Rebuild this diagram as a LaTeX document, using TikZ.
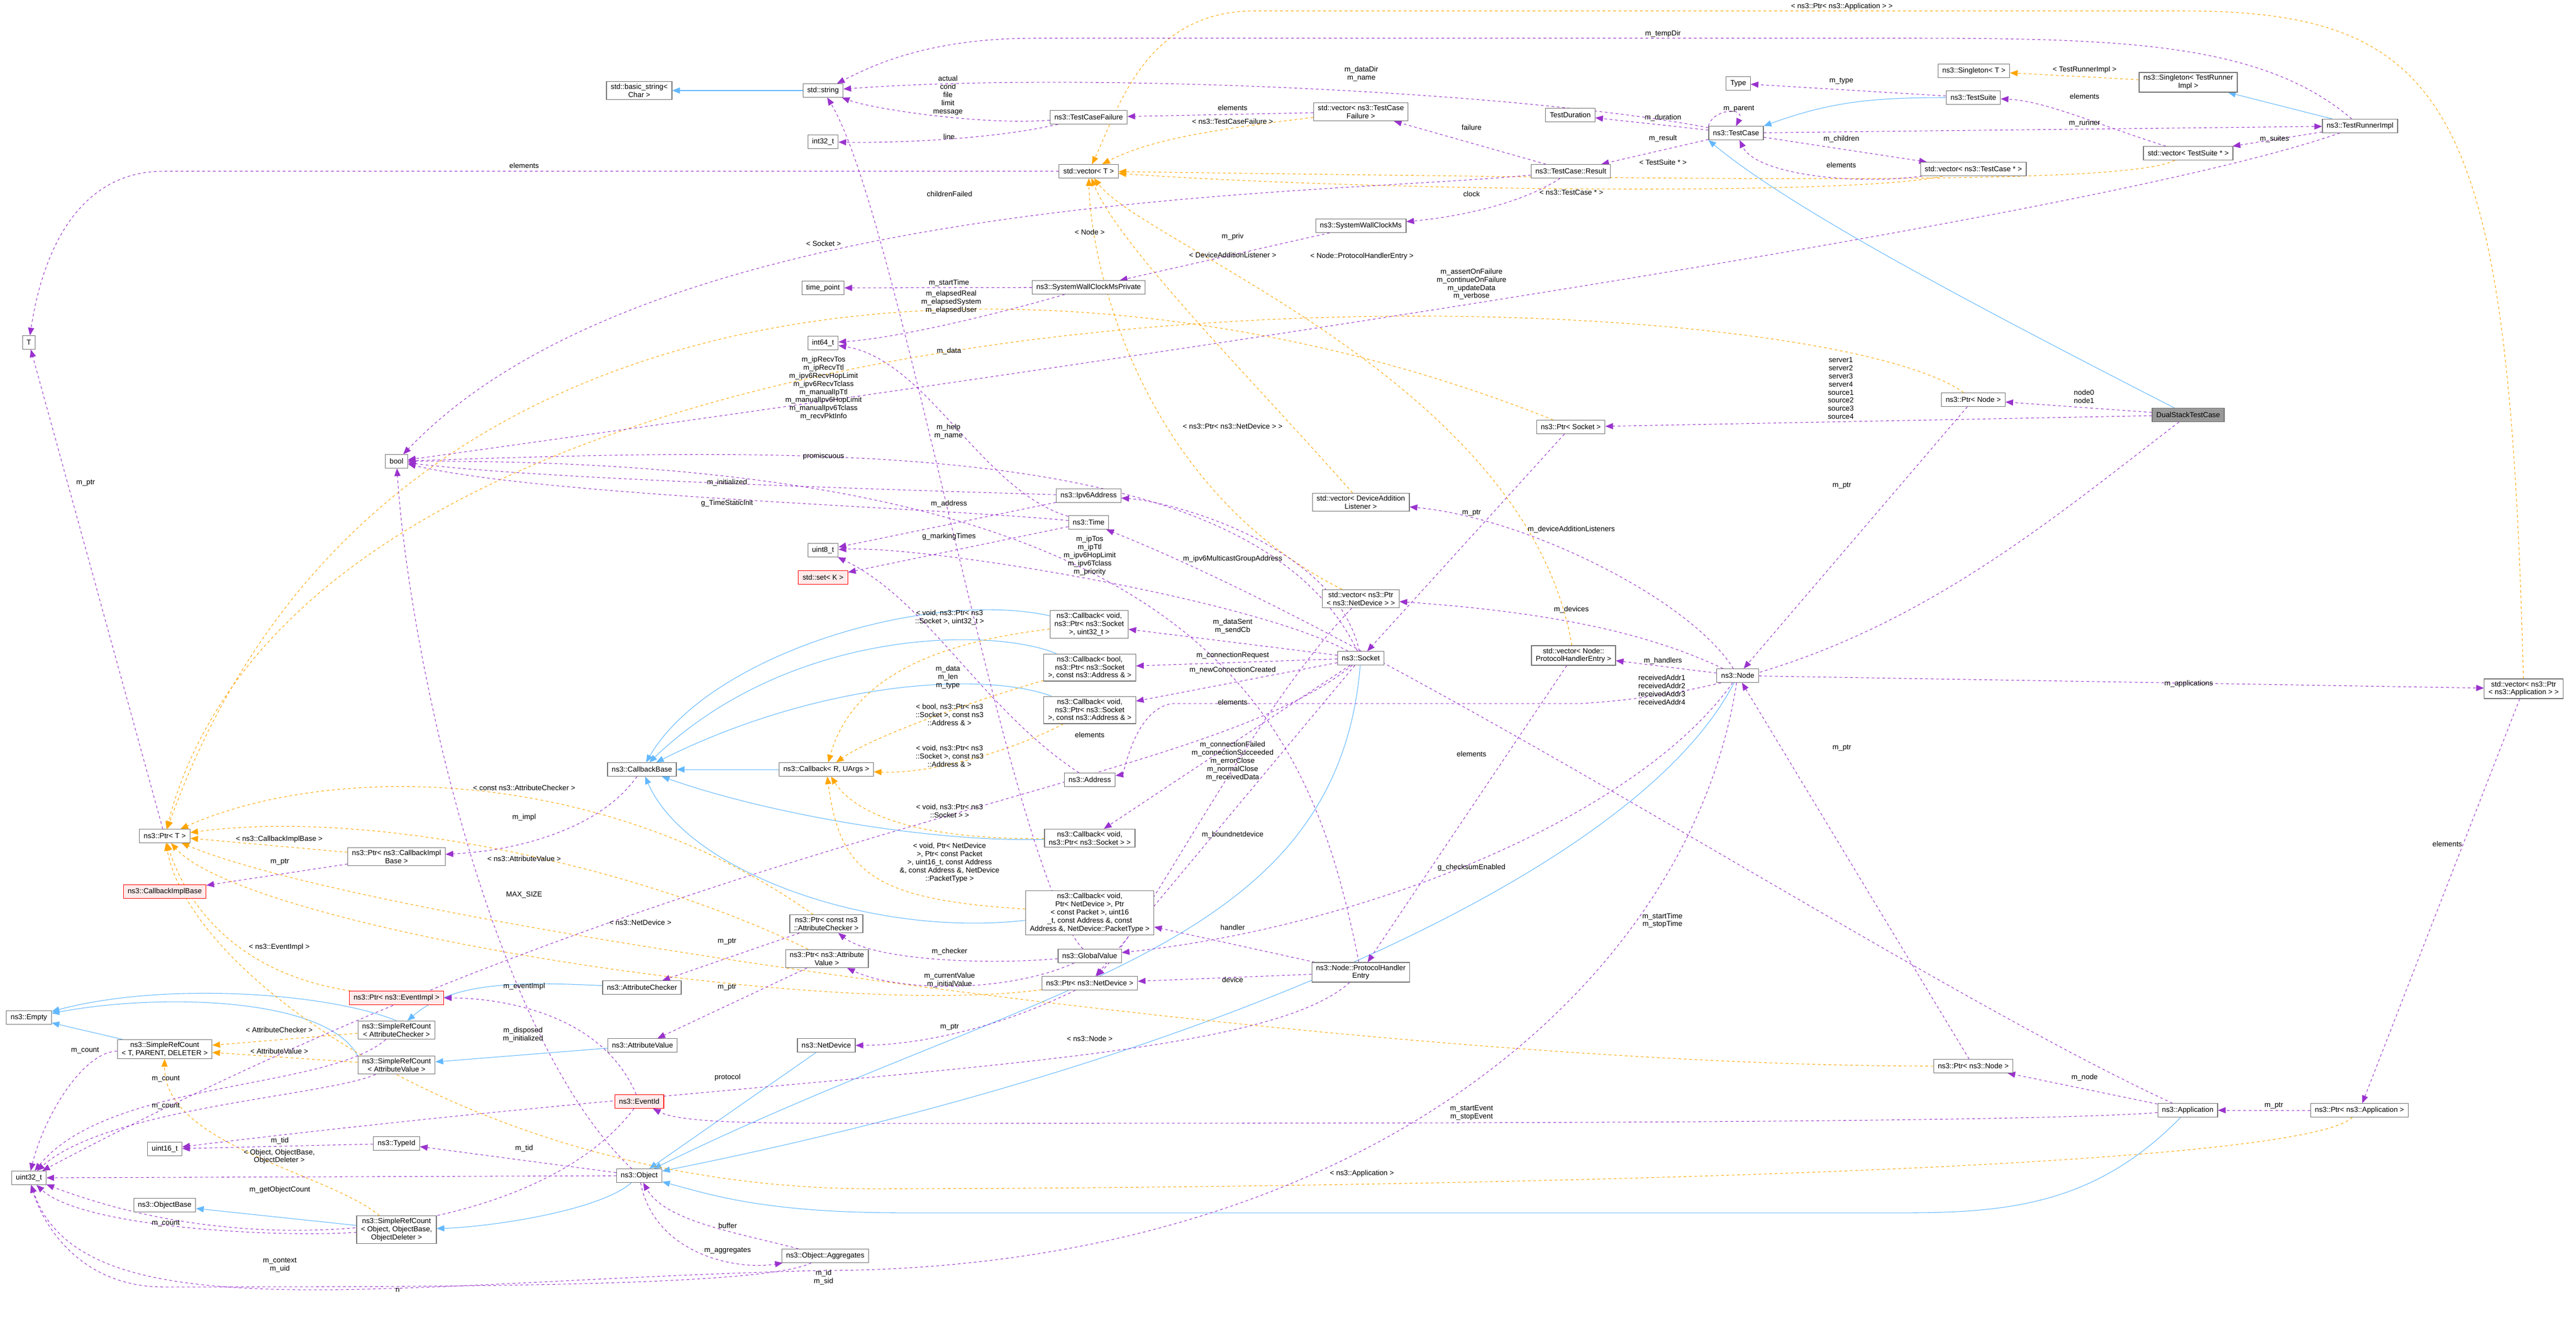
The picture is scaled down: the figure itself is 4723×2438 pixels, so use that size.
\documentclass[tikz,border=0pt]{standalone}
\usepackage{fontspec}
\newfontfamily\labf{Liberation Sans}
\usetikzlibrary{arrows.meta}
\pgfdeclarelayer{bg}\pgfsetlayers{bg,main}
\definecolor{pur}{HTML}{9A32CD}
\definecolor{org}{HTML}{FFA500}
\definecolor{blu}{HTML}{63B8FF}
\newcommand\fs{\labf\fontsize{3.8}{4.25}\selectfont}
\tikzset{
 box/.style={draw=black!55, fill=white, font=\fs, align=center, inner xsep=2.2pt, inner ysep=1.2pt, minimum height=7pt, line width=0.35pt},
 rbox/.style={box, draw=red, fill=red!8},
 gbox/.style={box, fill=black!40},
 lb/.style={font=\fs, align=center, inner sep=0pt},
 pe/.style={draw=pur, line width=0.3pt, dash pattern=on 1.4pt off 1.4pt, -{Triangle[length=4pt,width=3.2pt]}},
 oe/.style={draw=org, line width=0.3pt, dash pattern=on 1.4pt off 1.4pt, -{Triangle[length=4pt,width=3.2pt]}},
 be/.style={draw=blu, line width=0.3pt, -{Triangle[length=4pt,width=3.2pt]}},
}
\begin{document}
\begin{tikzpicture}[x=0.01cm,y=-0.01cm]
\useasboundingbox (0,0) rectangle (4723,2438);
% nodes
\node[box] (basicstr) at (1172,166) {std::basic\_string<\\ Char >};
\node[box] (string) at (1509,166) {std::string};
\node[box] (int32) at (1509,260) {int32\_t};
\node[box] (T) at (53,628) {T};
\node[box] (timep) at (1509,528) {time\_point};
\node[box] (int64) at (1509,629) {int64\_t};
\node[box] (bool) at (727,846) {bool};
\node[box] (uint8) at (1509,1009) {uint8\_t};
\node[rbox] (set) at (1509,1059) {std::set< K >};
\node[box] (TCF) at (1996,215) {ns3::TestCaseFailure};
\node[box] (vecTCF) at (2495,205) {std::vector< ns3::TestCase\\ Failure >};
\node[box] (TDur) at (2879,211) {TestDuration};
\node[box] (vecT) at (1996,314) {std::vector< T >};
\node[box] (Result) at (2880,314) {ns3::TestCase::Result};
\node[box] (SWC) at (2495,414) {ns3::SystemWallClockMs};
\node[box] (SWCP) at (1996,527) {ns3::SystemWallClockMsPrivate};
\node[box] (PtrSocket) at (2880,783) {ns3::Ptr< Socket >};
\node[box] (Ipv6) at (1996,909) {ns3::Ipv6Address};
\node[box] (Time) at (1996,958) {ns3::Time};
\node[box] (vecDAL) at (2495,921) {std::vector< DeviceAddition\\ Listener >};
\node[box] (vecND) at (2495,1098) {std::vector< ns3::Ptr\\ < ns3::NetDevice > >};
\node[box] (CbSend) at (1997,1145) {ns3::Callback< void,\\ ns3::Ptr< ns3::Socket\\ >, uint32\_t >};
\node[box] (Socket) at (2495,1207) {ns3::Socket};
\node[box] (vecPHE) at (2885,1202) {std::vector< Node::\\ ProtocolHandlerEntry >};
\node[box] (Node) at (3186,1239) {ns3::Node};
\node[box] (CbBool) at (1998,1224) {ns3::Callback< bool,\\ ns3::Ptr< ns3::Socket\\ >, const ns3::Address \& >};
\node[box] (CbVA) at (1998,1302) {ns3::Callback< void,\\ ns3::Ptr< ns3::Socket\\ >, const ns3::Address \& >};
\node[box] (Address) at (1998,1430) {ns3::Address};
\node[box] (CbVS) at (1998,1537) {ns3::Callback< void,\\ ns3::Ptr< ns3::Socket > >};
\node[box] (CbND) at (1998,1674) {ns3::Callback< void,\\ Ptr< NetDevice >, Ptr\\ < const Packet >, uint16\\ \_t, const Address \&, const\\ Address \&, NetDevice::PacketType >};
\node[box] (GV) at (1998,1753) {ns3::GlobalValue};
\node[box] (PtrND) at (1998,1803) {ns3::Ptr< ns3::NetDevice >};
\node[box] (CbBase) at (1177,1411) {ns3::CallbackBase};
\node[box] (CbR) at (1515,1411) {ns3::Callback< R, UArgs >};
\node[box] (PtrCAC) at (1515,1694) {ns3::Ptr< const ns3\\ ::AttributeChecker >};
\node[box] (PtrAV) at (1516,1758) {ns3::Ptr< ns3::Attribute\\ Value >};
\node[box] (AC) at (1177,1811) {ns3::AttributeChecker};
\node[box] (AV) at (1178,1917) {ns3::AttributeValue};
\node[box] (NetDev) at (1515,1917) {ns3::NetDevice};
\node[box] (PHE) at (2495,1783) {ns3::Node::ProtocolHandler\\ Entry};
\node[box] (Type) at (3187,153) {Type};
\node[box] (SingT) at (3619,130) {ns3::Singleton< T >};
\node[box] (SingTRI) at (4012,151) {ns3::Singleton< TestRunner\\ Impl >};
\node[box] (TestSuite) at (3618,179) {ns3::TestSuite};
\node[box] (TestCase) at (3183,244) {ns3::TestCase};
\node[box] (TRI) at (4327,231) {ns3::TestRunnerImpl};
\node[box] (vecTS) at (4012,281) {std::vector< TestSuite * >};
\node[box] (vecTC) at (3618,310) {std::vector< ns3::TestCase * >};
\node[box] (PtrNode) at (3618,733) {ns3::Ptr< Node >};
\node[gbox] (Dual) at (4012,761) {DualStackTestCase};
\node[box] (PtrT) at (302,1533) {ns3::Ptr< T >};
\node[box] (PtrCBI) at (727,1571) {ns3::Ptr< ns3::CallbackImpl\\ Base >};
\node[rbox] (CBIB) at (302,1635) {ns3::CallbackImplBase};
\node[rbox] (PtrEI) at (727,1830) {ns3::Ptr< ns3::EventImpl >};
\node[box] (Empty) at (53,1866) {ns3::Empty};
\node[box] (SRCT) at (302,1924) {ns3::SimpleRefCount\\ < T, PARENT, DELETER >};
\node[box] (SRCAC) at (727,1889) {ns3::SimpleRefCount\\ < AttributeChecker >};
\node[box] (SRCAV) at (727,1953) {ns3::SimpleRefCount\\ < AttributeValue >};
\node[rbox] (EventId) at (1172,2020) {ns3::EventId};
\node[box] (uint16) at (302,2107) {uint16\_t};
\node[box] (TypeId) at (727,2097) {ns3::TypeId};
\node[box] (uint32) at (53,2160) {uint32\_t};
\node[box] (Object) at (1172,2156) {ns3::Object};
\node[box] (ObjBase) at (302,2210) {ns3::ObjectBase};
\node[box] (SRCO) at (727,2255) {ns3::SimpleRefCount\\ < Object, ObjectBase,\\ ObjectDeleter >};
\node[box] (Aggr) at (1513,2303) {ns3::Object::Aggregates};
\node[box] (vecApp) at (4627,1263) {std::vector< ns3::Ptr\\ < ns3::Application > >};
\node[box] (PtrNsNode) at (3618,1955) {ns3::Ptr< ns3::Node >};
\node[box] (App) at (4011,2036) {ns3::Application};
\node[box] (PtrApp) at (4326,2036) {ns3::Ptr< ns3::Application >};
% labels
\node[lb] at (1738,175) {actual\\cond\\file\\limit\\message};
\node[lb] at (2496,135) {m\_dataDir\\m\_name};
\node[lb] at (2260,198) {elements};
\node[lb] at (2260,223) {< ns3::TestCaseFailure >};
\node[lb] at (1740,251) {line};
\node[lb] at (3049,62) {m\_tempDir};
\node[lb] at (3377,12) {< ns3::Ptr< ns3::Application > >};
\node[lb] at (2698,234) {failure};
\node[lb] at (3049,216) {m\_duration};
\node[lb] at (3049,254) {m\_result};
\node[lb] at (3049,298) {< TestSuite * >};
\node[lb] at (1741,356) {childrenFailed};
\node[lb] at (2698,356) {clock};
\node[lb] at (2881,353) {< ns3::TestCase * >};
\node[lb] at (1998,426) {< Node >};
\node[lb] at (2260,434) {m\_priv};
\node[lb] at (2260,468) {< DeviceAdditionListener >};
\node[lb] at (2497,470) {< Node::ProtocolHandlerEntry >};
\node[lb] at (2698,521) {m\_assertOnFailure\\m\_continueOnFailure\\m\_updateData\\m\_verbose};
\node[lb] at (1740,519) {m\_startTime};
\node[lb] at (1744,554) {m\_elapsedReal\\m\_elapsedSystem\\m\_elapsedUser};
\node[lb] at (1740,644) {m\_data};
\node[lb] at (2260,782) {< ns3::Ptr< ns3::NetDevice > >};
\node[lb] at (1739,791) {m\_help\\m\_name};
\node[lb] at (2698,941) {m\_ptr};
\node[lb] at (2881,971) {m\_deviceAdditionListeners};
\node[lb] at (1740,924) {m\_address};
\node[lb] at (1740,984) {g\_markingTimes};
\node[lb] at (1998,1019) {m\_ipTos\\m\_ipTtl\\m\_ipv6HopLimit\\m\_ipv6Tclass\\m\_priority};
\node[lb] at (2260,1025) {m\_ipv6MulticastGroupAddress};
\node[lb] at (1741,1132) {< void, ns3::Ptr< ns3\\::Socket >, uint32\_t >};
\node[lb] at (2260,1148) {m\_dataSent\\m\_sendCb};
\node[lb] at (2881,1118) {m\_devices};
\node[lb] at (2260,1202) {m\_connectionRequest};
\node[lb] at (3049,1212) {m\_handlers};
\node[lb] at (3822,128) {< TestRunnerImpl >};
\node[lb] at (3376,149) {m\_type};
\node[lb] at (3822,177) {elements};
\node[lb] at (3188,200) {m\_parent};
\node[lb] at (3822,227) {m\_runner};
\node[lb] at (3376,255) {m\_children};
\node[lb] at (4170,255) {m\_suites};
\node[lb] at (3376,303) {elements};
\node[lb] at (3375,712) {server1\\server2\\server3\\server4\\source1\\source2\\source3\\source4};
\node[lb] at (3821,727) {node0\\node1};
\node[lb] at (3377,891) {m\_ptr};
\node[lb] at (961,304) {elements};
\node[lb] at (1510,447) {< Socket >};
\node[lb] at (157,886) {m\_ptr};
\node[lb] at (1510,712) {m\_ipRecvTos\\m\_ipRecvTtl\\m\_ipv6RecvHopLimit\\m\_ipv6RecvTclass\\m\_manualIpTtl\\m\_manualIpv6HopLimit\\m\_manualIpv6Tclass\\m\_recvPktInfo};
\node[lb] at (1510,837) {promiscuous};
\node[lb] at (1333,885) {m\_initialized};
\node[lb] at (1333,923) {g\_TimeStaticInit};
\node[lb] at (961,1445) {< const ns3::AttributeChecker >};
\node[lb] at (961,1499) {m\_impl};
\node[lb] at (512,1539) {< ns3::CallbackImplBase >};
\node[lb] at (513,1581) {m\_ptr};
\node[lb] at (961,1575) {< ns3::AttributeValue >};
\node[lb] at (961,1641) {MAX\_SIZE};
\node[lb] at (1174,1692) {< ns3::NetDevice >};
\node[lb] at (1333,1727) {m\_ptr};
\node[lb] at (512,1737) {< ns3::EventImpl >};
\node[lb] at (1333,1811) {m\_ptr};
\node[lb] at (961,1809) {m\_eventImpl};
\node[lb] at (512,1889) {< AttributeChecker >};
\node[lb] at (959,1897) {m\_disposed\\m\_initialized};
\node[lb] at (512,1928) {< AttributeValue >};
\node[lb] at (156,1926) {m\_count};
\node[lb] at (304,1978) {m\_count};
\node[lb] at (1334,1976) {protocol};
\node[lb] at (304,2028) {m\_count};
\node[lb] at (513,2092) {m\_tid};
\node[lb] at (512,2121) {< Object, ObjectBase,\\ObjectDeleter >};
\node[lb] at (961,2106) {m\_tid};
\node[lb] at (513,2182) {m\_getObjectCount};
\node[lb] at (1334,2248) {buffer};
\node[lb] at (304,2243) {m\_count};
\node[lb] at (1334,2294) {m\_aggregates};
\node[lb] at (513,2320) {m\_context\\m\_uid};
\node[lb] at (729,2366) {n};
\node[lb] at (1510,2342) {m\_id\\m\_sid};
\node[lb] at (1738,1242) {m\_data\\m\_len\\m\_type};
\node[lb] at (2260,1229) {m\_newConnectionCreated};
\node[lb] at (1741,1311) {< bool, ns3::Ptr< ns3\\::Socket >, const ns3\\::Address \& >};
\node[lb] at (2260,1288) {elements};
\node[lb] at (3047,1265) {receivedAddr1\\receivedAddr2\\receivedAddr3\\receivedAddr4};
\node[lb] at (1998,1348) {elements};
\node[lb] at (1741,1387) {< void, ns3::Ptr< ns3\\::Socket >, const ns3\\::Address \& >};
\node[lb] at (2260,1396) {m\_connectionFailed\\m\_connectionSucceeded\\m\_errorClose\\m\_normalClose\\m\_receivedData};
\node[lb] at (2698,1383) {elements};
\node[lb] at (1741,1487) {< void, ns3::Ptr< ns3\\::Socket > >};
\node[lb] at (2260,1531) {m\_boundnetdevice};
\node[lb] at (1741,1582) {< void, Ptr< NetDevice\\>, Ptr< const Packet\\>, uint16\_t, const Address\\\&, const Address \&, NetDevice\\::PacketType >};
\node[lb] at (2698,1591) {g\_checksumEnabled};
\node[lb] at (3048,1688) {m\_startTime\\m\_stopTime};
\node[lb] at (2260,1701) {handler};
\node[lb] at (1741,1745) {m\_checker};
\node[lb] at (1741,1797) {m\_currentValue\\m\_initialValue};
\node[lb] at (2260,1797) {device};
\node[lb] at (1741,1884) {m\_ptr};
\node[lb] at (1998,1905) {< ns3::Node >};
\node[lb] at (2698,2041) {m\_startEvent\\m\_stopEvent};
\node[lb] at (2497,2152) {< ns3::Application >};
\node[lb] at (4013,1254) {m\_applications};
\node[lb] at (3377,1372) {m\_ptr};
\node[lb] at (4487,1548) {elements};
\node[lb] at (3822,1976) {m\_node};
\node[lb] at (4169,2028) {m\_ptr};
\begin{pgfonlayer}{bg}
% inheritance
\draw[be] (string) -- (basicstr);
\draw[be] (TestSuite.west) to[out=180,in=20] (TestCase.north east);
\draw[be] (Dual) .. controls (3600,550) and (3280,380) .. (TestCase.south west);
\draw[be] (TRI) -- (SingTRI);
\draw[be] (CbR) -- (CbBase);
\draw[be] (CbSend) .. controls (1700,1080) and (1300,1200) .. (CbBase);
\draw[be] (CbBool) .. controls (1820,1150) and (1450,1150) .. (CbBase);
\draw[be] (CbVA) .. controls (1800,1230) and (1500,1250) .. (CbBase);
\draw[be] (CbVS) .. controls (1700,1545) and (1400,1490) .. (CbBase);
\draw[be] (CbND) .. controls (1600,1720) and (1260,1600) .. (CbBase);
\draw[be] (SRCAC.north) .. controls (600,1820) and (300,1800) .. (Empty);
\draw[be] (SRCAV.north west) .. controls (600,1830) and (300,1820) .. (Empty);
\draw[be] (SRCT) -- (Empty);
\draw[be] (AC) .. controls (950,1800) and (830,1800) .. (SRCAC);
\draw[be] (AV) -- (SRCAV);
\draw[be] (NetDev) -- (Object);
\draw[be] (Socket) .. controls (2450,1750) and (1900,1800) .. (Object);
\draw[be] (Node) .. controls (3000,1600) and (2200,1950) .. (Object);
\draw[be] (App) .. controls (3850,2200) and (3700,2224) .. (3500,2224) -- (1650,2224) .. controls (1400,2224) and (1300,2190) .. (Object);
\draw[be] (Object) .. controls (1100,2220) and (900,2250) .. (SRCO);
\draw[be] (SRCO) -- (ObjBase);
% templates
\draw[oe] (SingTRI) -- (SingT);
\draw[oe] (vecTCF) .. controls (2200,240) and (2100,260) .. (vecT);
\draw[oe] (vecTS) .. controls (3900,340) and (3200,330) .. (vecT);
\draw[oe] (vecTC) .. controls (3400,360) and (2500,350) .. (vecT);
\draw[oe] (vecDAL) .. controls (2300,700) and (2050,450) .. (vecT);
\draw[oe] (vecPHE) .. controls (2800,700) and (2100,450) .. (vecT);
\draw[oe] (vecND) .. controls (2100,900) and (2000,500) .. (vecT);
\draw[oe] (vecApp) .. controls (4600,200) and (4500,20) .. (4000,20) -- (2300,20) .. controls (2100,20) and (2050,200) .. (vecT);
\draw[oe] (PtrSocket) .. controls (2000,430) and (700,420) .. (PtrT);
\draw[oe] (PtrNode) .. controls (3300,500) and (600,400) .. (PtrT);
\draw[oe] (PtrCBI) -- (PtrT);
\draw[oe] (PtrCAC) .. controls (1100,1400) and (600,1400) .. (PtrT);
\draw[oe] (PtrAV) .. controls (1200,1600) and (700,1480) .. (PtrT);
\draw[oe] (PtrND) .. controls (1500,1870) and (450,1700) .. (PtrT);
\draw[oe] (PtrEI) .. controls (400,1780) and (330,1620) .. (PtrT);
\draw[oe] (PtrNsNode) .. controls (2500,1955) and (700,1700) .. (PtrT);
\draw[oe] (PtrApp) .. controls (4200,2160) and (2200,2180) .. (1600,2180) .. controls (900,2180) and (350,1800) .. (PtrT);
\draw[oe] (CbBool) .. controls (1800,1280) and (1600,1350) .. (CbR);
\draw[oe] (CbVA) .. controls (1850,1380) and (1700,1420) .. (CbR);
\draw[oe] (CbSend) .. controls (1700,1180) and (1560,1250) .. (CbR);
\draw[oe] (CbVS) .. controls (1650,1540) and (1560,1480) .. (CbR);
\draw[oe] (CbND) .. controls (1600,1650) and (1540,1600) .. (CbR);
\draw[oe] (SRCAC) -- (SRCT);
\draw[oe] (SRCAV) -- (SRCT);
\draw[oe] (SRCO) .. controls (600,2150) and (300,2100) .. (SRCT);
% members
\draw[pe] (TCF) .. controls (1800,230) and (1600,200) .. (string);
\draw[pe] (TCF) .. controls (1800,260) and (1600,262) .. (int32);
\draw[pe] (vecTCF) -- (TCF);
\draw[pe] (vecT) -- (300,314) .. controls (150,314) and (80,450) .. (T);
\draw[pe] (TestCase) .. controls (2800,170) and (2000,130) .. (string);
\draw[pe] (TRI) .. controls (4150,80) and (3900,70) .. (3500,70) -- (1900,70) .. controls (1700,70) and (1600,120) .. (string);
\draw[pe] (TestCase) -- (TDur);
\draw[pe] (TestCase) -- (Result);
\draw[pe] (Result) -- (vecTCF);
\draw[pe] (Result) .. controls (2400,360) and (1200,350) .. (bool);
\draw[pe] (Result) .. controls (2780,380) and (2650,400) .. (SWC);
\draw[pe] (SWC) -- (SWCP);
\draw[pe] (SWCP) -- (timep);
\draw[pe] (SWCP) .. controls (1850,570) and (1650,620) .. (int64);
\draw[pe] (TestSuite) -- (Type);
\draw[pe] (TestCase.north west) .. controls (3140,200) and (3200,195) .. (TestCase.north);
\draw[pe] (TestCase) -- (TRI);
\draw[pe] (TestCase) -- (vecTC);
\draw[pe] (vecTC) .. controls (3400,340) and (3220,320) .. (TestCase);
\draw[pe] (vecTS) .. controls (3850,230) and (3750,185) .. (TestSuite);
\draw[pe] (TRI) -- (vecTS);
\draw[pe] (TRI) .. controls (3900,380) and (2500,600) .. (bool);
\draw[pe] (Dual) -- (PtrNode);
\draw[pe] (Dual) -- (PtrSocket);
\draw[pe] (Dual) .. controls (3700,1000) and (3400,1260) .. (2900,1290) -- (2150,1290) .. controls (2080,1300) and (2060,1420) .. (Address);
\draw[pe] (PtrNode) -- (Node);
\draw[pe] (PtrSocket) -- (Socket);
\draw[pe] (Node) -- (vecPHE);
\draw[pe] (Node) .. controls (3000,1150) and (2800,1120) .. (vecND);
\draw[pe] (Node) .. controls (3100,1100) and (2800,950) .. (vecDAL);
\draw[pe] (Node) -- (vecApp);
\draw[pe] (Node) .. controls (3100,1800) and (2500,2330) .. (1500,2330) .. controls (700,2350) and (150,2450) .. (uint32);
\draw[pe] (Node) .. controls (3000,1500) and (2500,1700) .. (GV);
\draw[pe] (PtrNsNode) -- (Node);
\draw[pe] (vecND) .. controls (2300,1300) and (2100,1700) .. (PtrND);
\draw[pe] (vecPHE) -- (PHE);
\draw[pe] (PHE) -- (CbND);
\draw[pe] (PHE) -- (PtrND);
\draw[pe] (PHE) .. controls (2300,1960) and (1500,1960) .. (uint16);
\draw[pe] (PHE) .. controls (2400,1300) and (2200,840) .. (bool);
\draw[pe] (PtrND) .. controls (1800,1900) and (1650,1917) .. (NetDev);
\draw[pe] (Socket) -- (CbSend);
\draw[pe] (Socket) -- (CbBool);
\draw[pe] (Socket) -- (CbVA);
\draw[pe] (Socket) -- (CbVS);
\draw[pe] (Socket) -- (PtrND);
\draw[pe] (Socket) .. controls (2300,800) and (1500,820) .. (bool);
\draw[pe] (Socket) .. controls (2300,1100) and (1700,1000) .. (uint8);
\draw[pe] (Socket) .. controls (2450,1000) and (2150,920) .. (Ipv6);
\draw[pe] (Socket) .. controls (2200,1450) and (1300,1500) .. (uint32);
\draw[pe] (Time) .. controls (1800,900) and (1700,660) .. (int64);
\draw[pe] (Time) .. controls (1700,930) and (1000,910) .. (bool);
\draw[pe] (Time) -- (set);
\draw[pe] (App) .. controls (3500,1800) and (2600,1200) .. (Time);
\draw[pe] (Ipv6) .. controls (1700,900) and (1000,880) .. (bool);
\draw[pe] (Ipv6) -- (uint8);
\draw[pe] (GV) .. controls (1850,1600) and (1650,400) .. (string);
\draw[pe] (GV) .. controls (1800,1770) and (1600,1760) .. (PtrCAC);
\draw[pe] (GV) .. controls (1850,1820) and (1650,1820) .. (PtrAV);
\draw[pe] (Address) .. controls (1800,1300) and (1700,1100) .. (uint8);
\draw[pe] (PtrCAC) -- (AC);
\draw[pe] (PtrAV) -- (AV);
\draw[pe] (PtrCBI) -- (CBIB);
\draw[pe] (CbBase) .. controls (1100,1520) and (950,1560) .. (PtrCBI);
\draw[pe] (EventId) .. controls (1100,1850) and (900,1830) .. (PtrEI);
\draw[pe] (EventId) .. controls (1000,2250) and (500,2330) .. (uint32);
\draw[pe] (Object) .. controls (900,1900) and (750,1200) .. (bool);
\draw[pe] (Object) -- (TypeId);
\draw[pe] (TypeId) -- (uint16);
\draw[pe] (Object) -- (uint32);
\draw[pe] (Object) .. controls (1200,2300) and (1350,2330) .. (Aggr);
\draw[pe] (Aggr) .. controls (1350,2260) and (1220,2240) .. (Object);
\draw[pe] (Aggr) .. controls (1400,2360) and (800,2360) .. (300,2360) .. controls (150,2360) and (80,2250) .. (uint32);
\draw[pe] (SRCT) .. controls (150,1930) and (80,2050) .. (uint32);
\draw[pe] (SRCAC) .. controls (600,2000) and (200,1980) .. (uint32);
\draw[pe] (SRCAV) .. controls (600,2010) and (200,2030) .. (uint32);
\draw[pe] (SRCO) .. controls (500,2270) and (150,2250) .. (uint32);
\draw[pe] (PtrT) -- (T);
\draw[pe] (App) -- (PtrNsNode);
\draw[pe] (App) .. controls (3700,2060) and (2500,2060) .. (1600,2060) .. controls (1400,2060) and (1250,2060) .. (EventId);
\draw[pe] (PtrApp) -- (App);
\draw[pe] (vecApp) -- (PtrApp);
\end{pgfonlayer}
\end{tikzpicture}
\end{document}
